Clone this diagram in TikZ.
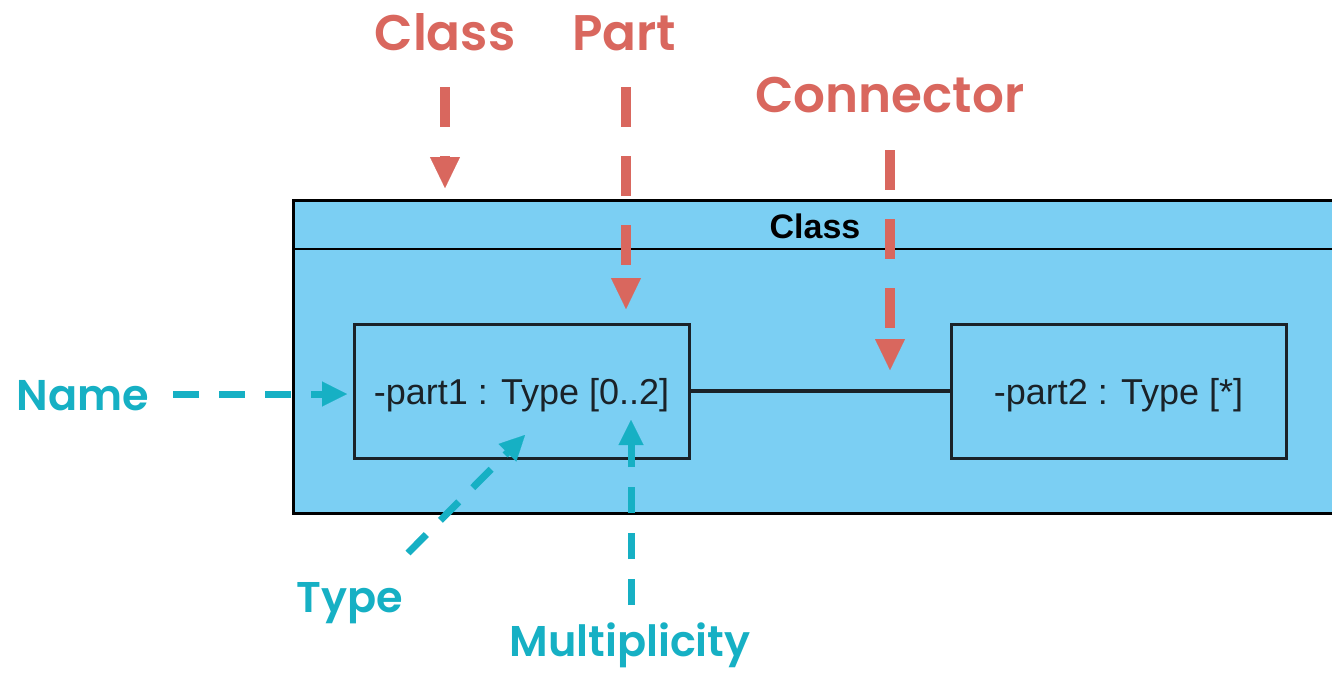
\documentclass[tikz,border=0pt]{standalone}
\usepackage{fontspec}
\setmainfont{Liberation Sans}
\IfFontExistsTF{Poppins SemiBold}
  {\newfontfamily\lblfont{Poppins SemiBold}}
  {\newfontfamily\lblfont{Poppins}[FakeBold=1.5]}
\usetikzlibrary{arrows.meta}
\definecolor{lblred}{HTML}{D9675E}
\definecolor{lblcyan}{HTML}{16B0C4}
\definecolor{boxfill}{HTML}{7BCFF3}
\definecolor{ink}{HTML}{1A2228}
\tikzset{
  redlbl/.style={text=lblred, anchor=base, inner sep=0pt, font=\lblfont\fontsize{50}{56}\selectfont},
  cyanlbl/.style={text=lblcyan, anchor=base, inner sep=0pt, font=\lblfont\fontsize{43}{48}\selectfont},
  redarrow/.style={draw=lblred, line width=10pt, dash pattern=on 40pt off 29pt,
    -{Triangle[length=31pt,width=30pt,line width=0.1pt]}},
  cyanarrow/.style={draw=lblcyan, line width=7pt, dash pattern=on 26pt off 20pt,
    -{Triangle[length=25pt,width=25pt,line width=0.1pt]}},
  partbox/.style={draw=ink, line width=3pt, fill=boxfill, minimum width=335pt, minimum height=134pt,
    inner sep=0pt, text=ink, font=\fontsize{36}{40}\selectfont, text height=26pt, text depth=0pt},
}
\begin{document}
\begin{tikzpicture}[x=1pt,y=-1pt]
\useasboundingbox (0,0) rectangle (1332,673);
\clip (0,0) rectangle (1332,673);
\fill[white] (0,0) rectangle (1332,673);
% outer class
\draw[line width=3.3pt, fill=boxfill] (293.5,200.5) rectangle (1337,513.5);
\draw[line width=2.8pt] (293.5,249) -- (1337,249);
\node[anchor=base, inner sep=0pt, font=\bfseries\fontsize{34}{38}\selectfont] (hdr) at (815,238) {Class};
% parts
\node[partbox] (part1) at (521.5,391) {-part1 : Type [0..2]};
\node[partbox] (part2) at (1118.5,391) {-part2 : Type [*]};
\draw[draw=ink, line width=3.2pt] (part1.east) -- (part2.west);
% red labels
\node[redlbl] (lclass) at (445,50) {Class};
\node[redlbl] (lpart) at (624,50) {Part};
\node[redlbl] (lconn) at (890,112) {Connector};
\coordinate (cA0) at (445,87); \coordinate (cA1) at (445,188);
\coordinate (pA0) at (626,87); \coordinate (pA1) at (626,309);
\coordinate (kA0) at (890,150); \coordinate (kA1) at (890,370);
\draw[redarrow] (cA0) -- (cA1);
\draw[redarrow] (pA0) -- (pA1);
\draw[redarrow] (kA0) -- (kA1);
% cyan labels
\node[cyanlbl] (lname) at (83,410) {Name};
\node[cyanlbl] (ltype) at (350,612) {Type};
\node[cyanlbl] (lmult) at (630,656) {Multiplicity};
\coordinate (nA0) at (173,394); \coordinate (nA1) at (347,394);
\coordinate (tA0) at (408,553); \coordinate (tA1) at (525,435);
\coordinate (mA0) at (631,605); \coordinate (mA1) at (631,420);
\draw[cyanarrow] (nA0) -- (nA1);
\draw[cyanarrow] (tA0) -- (tA1);
\draw[cyanarrow] (mA0) -- (mA1);
\end{tikzpicture}
\end{document}
